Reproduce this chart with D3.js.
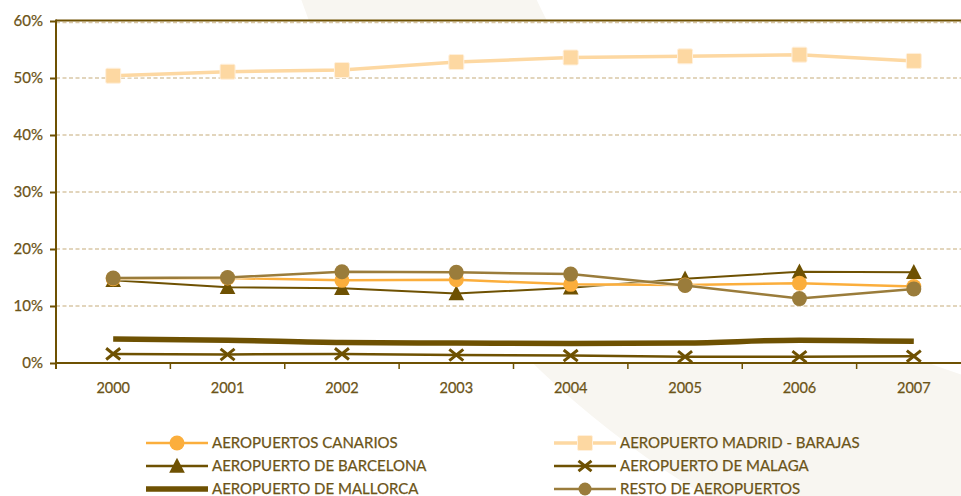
<!DOCTYPE html>
<html>
<head>
<meta charset="utf-8">
<script src="https://cdn.jsdelivr.net/npm/d3@7"></script>
<style>
  html, body { margin: 0; padding: 0; background: #ffffff; }
  svg { display: block; }
  text { font-family: Lato, "Open Sans", sans-serif; fill: #6c5418; stroke: #6c5418; stroke-width: 0.25px; }
</style>
</head>
<body>
<svg id="chart" width="961" height="496"></svg>
<script>
// Passenger share by airport, 2000–2007
const years = ["2000", "2001", "2002", "2003", "2004", "2005", "2006", "2007"];
const yTicks = [0, 0.1, 0.2, 0.3, 0.4, 0.5, 0.6];

const canarios  = [0.148, 0.149, 0.145, 0.146, 0.138, 0.137, 0.140, 0.134];
const madrid    = [0.504, 0.511, 0.514, 0.528, 0.536, 0.538, 0.541, 0.530];
const barcelona = [0.145, 0.133, 0.131, 0.122, 0.132, 0.148, 0.160, 0.159];
const malaga    = [0.016, 0.015, 0.016, 0.014, 0.013, 0.011, 0.011, 0.012];
const mallorca  = [0.042, 0.040, 0.036, 0.035, 0.034, 0.035, 0.040, 0.038];
const resto     = [0.149, 0.150, 0.160, 0.159, 0.156, 0.136, 0.113, 0.130];

const labels = {
  canarios: "AEROPUERTOS CANARIOS",
  madrid: "AEROPUERTO MADRID - BARAJAS",
  barcelona: "AEROPUERTO DE BARCELONA",
  malaga: "AEROPUERTO DE MALAGA",
  mallorca: "AEROPUERTO DE MALLORCA",
  resto: "RESTO DE AEROPUERTOS"
};

const DARK = "#6e5102";
const series = [
  { key: "mallorca",  values: mallorca,  color: DARK,      width: 5.5, marker: "none" },
  { key: "malaga",    values: malaga,    color: DARK,      width: 2.5, marker: "cross" },
  { key: "madrid",    values: madrid,    color: "#fdd8a2", width: 3.5, marker: "square" },
  { key: "barcelona", values: barcelona, color: DARK,      width: 2,   marker: "triangle" },
  { key: "canarios",  values: canarios,  color: "#fbae3c", width: 2.5, marker: "circle" },
  { key: "resto",     values: resto,     color: "#9a7c3b", width: 2.5, marker: "circle" }
];

const svg = d3.select("#chart");

// Soft decorative ring in the page background
svg.append("path")
  .attr("transform", "translate(1187,-309)")
  .attr("d", d3.arc()({ innerRadius: 720, outerRadius: 938, startAngle: 0, endAngle: 2 * Math.PI }))
  .attr("fill", "#f8f6f1");

const x = d3.scaleBand().domain(years).range([56, 971]).padding(0);
const y = d3.scaleLinear().domain([0, 0.6]).range([363, 21]);
const cx = d => x(d) + x.bandwidth() / 2;

// Plot background
svg.append("rect")
  .attr("x", x.range()[0]).attr("y", y(0.6))
  .attr("width", x.range()[1] - x.range()[0]).attr("height", y(0) - y(0.6))
  .attr("fill", "#ffffff");

// Dashed gridlines
svg.append("g").selectAll("line")
  .data(yTicks.filter(t => t > 0))
  .join("line")
  .attr("x1", x.range()[0]).attr("x2", x.range()[1])
  .attr("y1", d => y(d) + (d === 0.6 ? 1.5 : 0)).attr("y2", d => y(d) + (d === 0.6 ? 1.5 : 0))
  .attr("stroke", "#d9c8a6").attr("stroke-width", 1.3)
  .attr("stroke-dasharray", "4,2.5");

// Top border
svg.append("line")
  .attr("x1", x.range()[0]).attr("x2", x.range()[1])
  .attr("y1", y(0.6) - 0.5).attr("y2", y(0.6) - 0.5)
  .attr("stroke", DARK).attr("stroke-width", 2);

// Y axis
const yAxis = svg.append("g")
  .attr("transform", `translate(${x.range()[0]},0)`)
  .call(d3.axisLeft(y).tickValues(yTicks).tickFormat(d3.format(".0%")).tickSize(6).tickPadding(7));
yAxis.select(".domain").remove();
yAxis.selectAll(".tick line").attr("stroke", DARK).attr("stroke-width", 2);
yAxis.selectAll(".tick text").style("font-size", "15px").attr("fill", "#6c5418");
svg.append("line")
  .attr("x1", x.range()[0]).attr("x2", x.range()[0])
  .attr("y1", y(0.6) - 1.5).attr("y2", y(0) + 6)
  .attr("stroke", DARK).attr("stroke-width", 2);

// X axis: labels at category centres, ticks at category boundaries
const xAxis = svg.append("g")
  .attr("transform", `translate(0,${y(0)})`)
  .call(d3.axisBottom(x).tickSize(0).tickPadding(20));
xAxis.select(".domain").remove();
xAxis.selectAll(".tick text").style("font-size", "14.5px").attr("fill", "#6c5418");
svg.append("line")
  .attr("x1", x.range()[0]).attr("x2", x.range()[1])
  .attr("y1", y(0)).attr("y2", y(0))
  .attr("stroke", DARK).attr("stroke-width", 2);
svg.append("g").selectAll("line")
  .data(years.slice(1))
  .join("line")
  .attr("x1", d => x(d)).attr("x2", d => x(d))
  .attr("y1", y(0)).attr("y2", y(0) + 6)
  .attr("stroke", DARK).attr("stroke-width", 1.5);

// Marker drawing
function drawMarker(g, type, color, px, py, s) {
  if (type === "circle") {
    g.append("circle").attr("cx", px).attr("cy", py).attr("r", s / 2).attr("fill", color);
  } else if (type === "square") {
    g.append("rect").attr("x", px - s / 2).attr("y", py - s / 2).attr("width", s).attr("height", s)
      .attr("rx", 1.5).attr("fill", color).attr("stroke", "#fff0dc").attr("stroke-width", 1);
  } else if (type === "triangle") {
    g.append("path")
      .attr("d", `M${px},${py - s * 0.55}L${px + s * 0.52},${py + s * 0.45}L${px - s * 0.52},${py + s * 0.45}Z`)
      .attr("fill", color);
  } else if (type === "cross") {
    const h = s / 2;
    g.append("path")
      .attr("d", `M${px - h},${py - h * 0.8}L${px + h},${py + h * 0.8}M${px + h},${py - h * 0.8}L${px - h},${py + h * 0.8}`)
      .attr("stroke", color).attr("stroke-width", 3).attr("fill", "none");
  }
}

const markerSize = { circle: 15, square: 15, triangle: 15, cross: 14 };

// Series lines and markers
const straight = d3.line().x((d, i) => cx(years[i])).y(d => y(d));
const smooth = d3.line().x((d, i) => cx(years[i])).y(d => y(d)).curve(d3.curveMonotoneX);
series.forEach(s => {
  const g = svg.append("g");
  const path = (s.key === "mallorca" ? smooth : straight)(s.values);
  g.append("path")
    .attr("d", path)
    .attr("fill", "none")
    .attr("stroke", "#ffffff").attr("stroke-opacity", 0.6)
    .attr("stroke-width", s.width + 1.5)
    .attr("stroke-linejoin", "round");
  g.append("path")
    .attr("d", path)
    .attr("fill", "none")
    .attr("stroke", s.color)
    .attr("stroke-width", s.width)
    .attr("stroke-linejoin", "round");
  if (s.marker !== "none") {
    s.values.forEach((v, i) => drawMarker(g, s.marker, s.color, cx(years[i]), y(v), markerSize[s.marker]));
  }
});

// Legend
const legendOrder = [
  { key: "canarios",  col: 0, row: 0 },
  { key: "madrid",    col: 1, row: 0 },
  { key: "barcelona", col: 0, row: 1 },
  { key: "malaga",    col: 1, row: 1 },
  { key: "mallorca",  col: 0, row: 2 },
  { key: "resto",     col: 1, row: 2 }
];
const colX = [146, 554];
const rowY = [443, 466, 489];
const legendSize = { circle: 15, square: 15, triangle: 15, cross: 13 };
legendOrder.forEach(item => {
  const s = series.find(d => d.key === item.key);
  const g = svg.append("g");
  const x0 = colX[item.col], yy = rowY[item.row];
  g.append("line")
    .attr("x1", x0).attr("x2", x0 + 62)
    .attr("y1", yy).attr("y2", yy)
    .attr("stroke", s.color).attr("stroke-width", s.key === "mallorca" ? 5.5 : (s.key === "madrid" ? 3.5 : 2.5));
  if (s.marker !== "none") drawMarker(g, s.marker, s.color, x0 + 31, yy, s.key === "resto" ? 13 : legendSize[s.marker]);
  g.append("text")
    .attr("x", x0 + 66).attr("y", yy)
    .attr("dy", "0.36em")
    .style("font-size", "15px")
    .text(labels[s.key]);
});
</script>
</body>
</html>
